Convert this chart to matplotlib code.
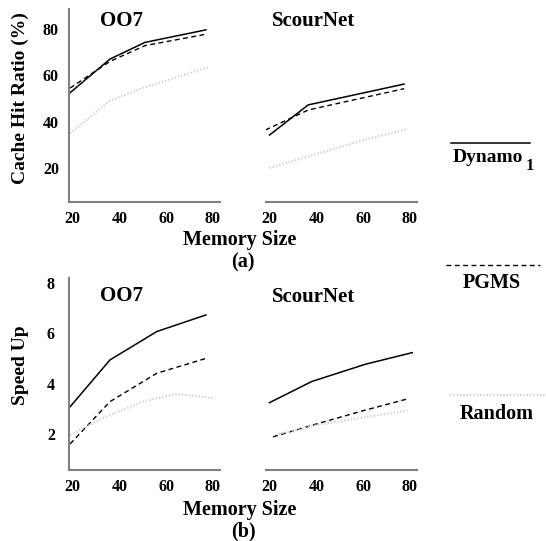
import matplotlib
matplotlib.use('Agg')
import matplotlib.pyplot as plt
from matplotlib.lines import Line2D

plt.rcParams['font.family'] = ['Liberation Serif', 'DejaVu Serif']
plt.rcParams['font.weight'] = 'bold'

# (a) cache hit ratio (%)
oo7_hit_x = [19, 36, 51, 77]
oo7_hit_dynamo = [52.5, 67, 74.2, 79.6]
oo7_hit_pgms = [54.5, 66, 72.8, 77.7]
oo7_hit_random_x = [19, 36, 50, 78]
oo7_hit_random = [35, 49, 54.5, 63.5]

scour_hit_dynamo_x = [20, 36.5, 77.5]
scour_hit_dynamo = [34.2, 47.2, 56.2]
scour_hit_pgms_x = [18.3, 36.5, 77.5]
scour_hit_pgms = [36.4, 45, 54.2]
scour_hit_random_x = [20, 40, 60, 79]
scour_hit_random = [20, 26, 32, 36.8]

# (b) speed up
oo7_sp_x = [19, 36, 56, 77]
oo7_sp_dynamo = [3.08, 4.94, 6.07, 6.73]
oo7_sp_pgms = [1.6, 3.28, 4.41, 5.0]
oo7_sp_random_x = [19, 33, 50, 64, 81]
oo7_sp_random = [1.95, 2.63, 3.28, 3.59, 3.41]

scour_sp_dynamo_x = [20, 38, 61, 81]
scour_sp_dynamo = [3.24, 4.08, 4.77, 5.23]
scour_sp_pgms_x = [21.5, 40, 60, 79]
scour_sp_pgms = [1.88, 2.39, 2.92, 3.39]
scour_sp_random_x = [24, 40, 60, 79]
scour_sp_random = [2.0, 2.35, 2.65, 2.92]

x_ticks = [20, 40, 60, 80]
hit_ticks = [20, 40, 60, 80]
sp_ticks = [2, 4, 6, 8]

W, H = 546, 541
fig = plt.figure(figsize=(W / 100, H / 100), dpi=100)

SPINE = '#808080'
RAND = '#d0d0d0'


def px_axes(left, top, right, bottom):
    return fig.add_axes([left / W, 1 - bottom / H, (right - left) / W, (bottom - top) / H])


def style(ax, ylim, yticks, show_left):
    ax.set_xlim(18.5, 83)
    ax.set_ylim(*ylim)
    for s in ['top', 'right']:
        ax.spines[s].set_visible(False)
    ax.spines['bottom'].set_color(SPINE)
    ax.spines['bottom'].set_linewidth(1.5)
    ax.spines['left'].set_color(SPINE)
    ax.spines['left'].set_linewidth(1.5)
    ax.spines['left'].set_visible(show_left)
    ax.set_xticks(x_ticks)
    ax.tick_params(axis='x', length=0, pad=6.5, labelsize=11.5)
    if show_left:
        ax.set_yticks(yticks)
        ax.tick_params(axis='y', length=0, pad=13, labelsize=11.5)
        for t in ax.get_yticklabels():
            t.set_horizontalalignment('center')
    else:
        ax.set_yticks([])
    for t in ax.get_xticklabels() + ax.get_yticklabels():
        t.set_fontweight('bold')


def draw(ax, dx, dy, px, py, rx, ry):
    ax.plot(dx, dy, color='black', lw=1.1)
    ax.plot(px, py, color='black', lw=1.0, dashes=(3.5, 2.5))
    ax.plot(rx, ry, color=RAND, lw=1.6, linestyle=(0, (0.6, 0.9)))


ax1 = px_axes(69, 9, 220, 202)
style(ax1, (5.3, 88.6), hit_ticks, True)
draw(ax1, oo7_hit_x, oo7_hit_dynamo, oo7_hit_x, oo7_hit_pgms, oo7_hit_random_x, oo7_hit_random)
ax1.text(0.35, 0.938, 'OO7', transform=ax1.transAxes, ha='center', va='center', fontsize=15, fontweight='bold')

ax2 = px_axes(266, 9, 417, 202)
style(ax2, (5.3, 88.6), hit_ticks, False)
draw(ax2, scour_hit_dynamo_x, scour_hit_dynamo, scour_hit_pgms_x, scour_hit_pgms, scour_hit_random_x, scour_hit_random)
ax2.text(0.318, 0.938, 'ScourNet', transform=ax2.transAxes, ha='center', va='center', fontsize=15, fontweight='bold')

ax3 = px_axes(69, 278, 220, 470)
style(ax3, (0.56, 8.2), sp_ticks, True)
draw(ax3, oo7_sp_x, oo7_sp_dynamo, oo7_sp_x, oo7_sp_pgms, oo7_sp_random_x, oo7_sp_random)
ax3.text(0.35, 0.904, 'OO7', transform=ax3.transAxes, ha='center', va='center', fontsize=15, fontweight='bold')

ax4 = px_axes(266, 278, 417, 470)
style(ax4, (0.56, 8.2), sp_ticks, False)
draw(ax4, scour_sp_dynamo_x, scour_sp_dynamo, scour_sp_pgms_x, scour_sp_pgms, scour_sp_random_x, scour_sp_random)
ax4.text(0.318, 0.90, 'ScourNet', transform=ax4.transAxes, ha='center', va='center', fontsize=15, fontweight='bold')

# axis labels
fig.text(20.5 / W, 1 - 98 / H, 'Cache Hit Ratio (%)', rotation=90, ha='center', va='center', fontsize=14, fontweight='bold')
fig.text(20.5 / W, 1 - 365 / H, 'Speed Up', rotation=90, ha='center', va='center', fontsize=14, fontweight='bold')
fig.text(240 / W, 1 - 240 / H, 'Memory Size', ha='center', va='center', fontsize=14.5, fontweight='bold')
fig.text(243 / W, 1 - 262 / H, '(a)', ha='center', va='center', fontsize=14.5, fontweight='bold')
fig.text(240 / W, 1 - 510 / H, 'Memory Size', ha='center', va='center', fontsize=14.5, fontweight='bold')
fig.text(243 / W, 1 - 531 / H, '(b)', ha='center', va='center', fontsize=14.5, fontweight='bold')

# legend at the right
fig.add_artist(Line2D([451 / W, 530 / W], [1 - 142.7 / H] * 2, color='black', lw=1.1))
fig.text(488 / W, 1 - 157 / H, 'Dynamo', ha='center', va='center', fontsize=14, fontweight='bold')
fig.text(530 / W, 1 - 166 / H, '1', ha='center', va='center', fontsize=12, fontweight='bold')
fig.add_artist(Line2D([446 / W, 540 / W], [1 - 265 / H] * 2, color='black', lw=1.0, dashes=(3.5, 2.5)))
fig.text(492 / W, 1 - 283 / H, 'PGMS', ha='center', va='center', fontsize=14.5, fontweight='bold')
fig.add_artist(Line2D([450 / W, 546 / W], [1 - 395 / H] * 2, color=RAND, lw=1.6, linestyle=(0, (0.6, 0.9))))
fig.text(497 / W, 1 - 414 / H, 'Random', ha='center', va='center', fontsize=14.5, fontweight='bold')

fig.savefig('out.png', dpi=100)
